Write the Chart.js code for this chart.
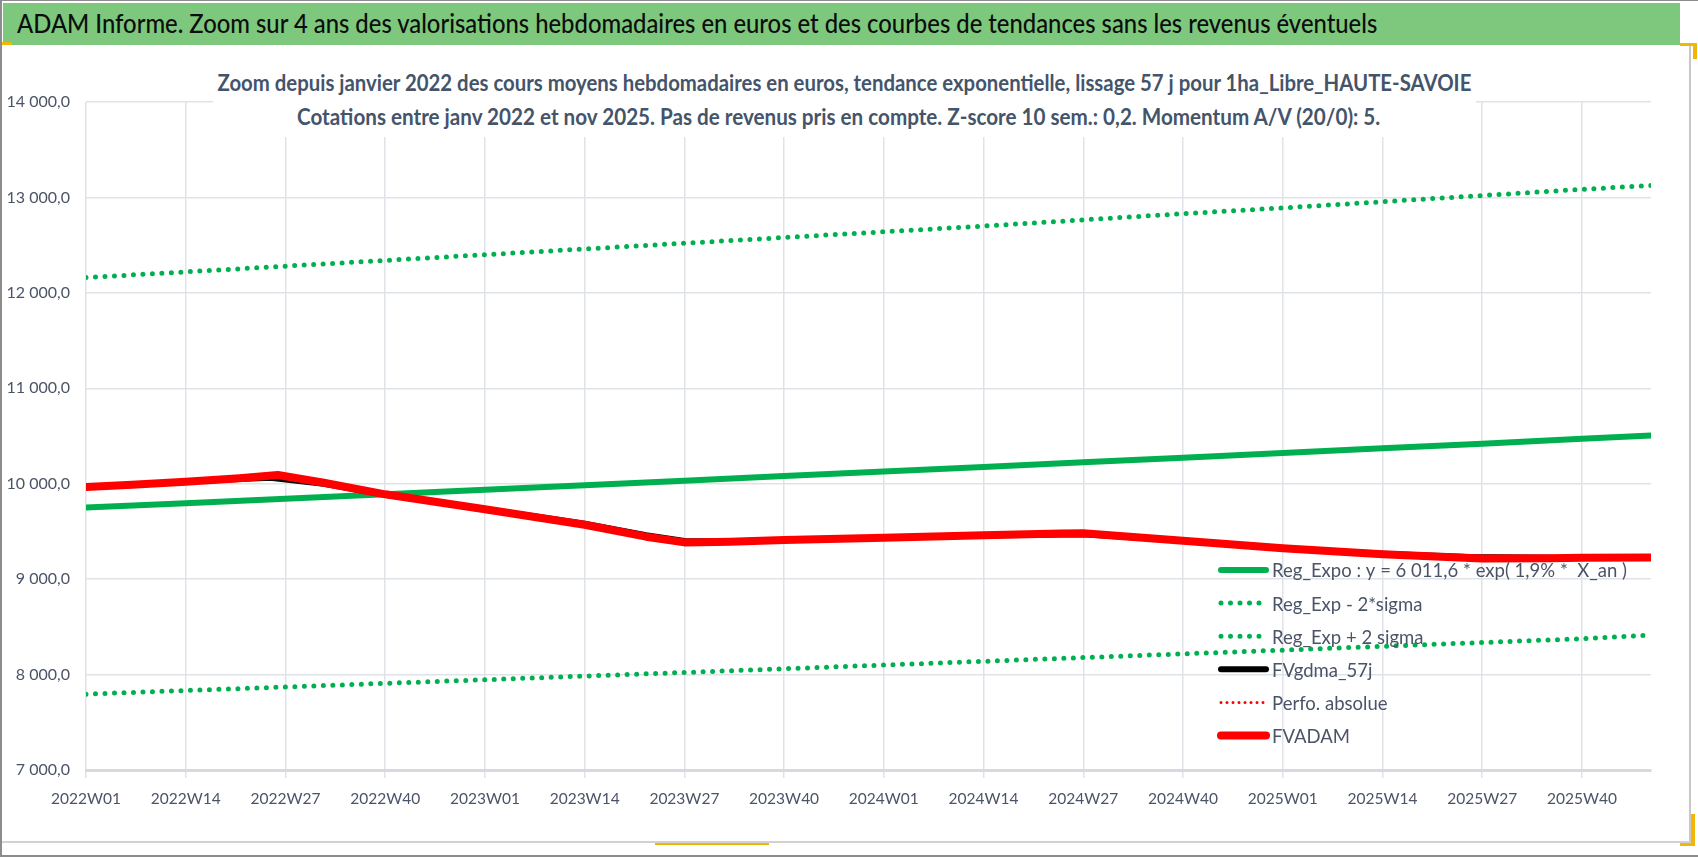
<!DOCTYPE html>
<html>
<head>
<meta charset="utf-8">
<title>ADAM Informe - 1ha_Libre_HAUTE-SAVOIE</title>
<script src="https://cdn.jsdelivr.net/npm/chart.js@4.4.0/dist/chart.umd.min.js"></script>
<style>
  html, body { margin: 0; padding: 0; background: #fff; }
  #page { position: relative; width: 1698px; height: 857px; overflow: hidden; font-family: Lato, "Open Sans", sans-serif; }
  #frame { position: absolute; left: 0; top: 0; width: 1696px; height: 854px; border-left: 2px solid #8c8c8c; border-top: 1px solid #8c8c8c; border-bottom: 2px solid #8c8c8c; }
  #box { position: absolute; left: 2px; top: 45px; width: 1687px; height: 796px; border-right: 2px solid #c8c8c8; border-bottom: 2px solid #d2d2d2; }
  #banner { position: absolute; left: 3px; top: 3px; width: 1677px; height: 42px; background: #7dc87d; }
  #bannerText { position: absolute; left: 14px; top: 4px; font-size: 27px; line-height: 32px; font-weight: 500; color: #0d0d0d; white-space: nowrap; transform-origin: 0 0; }
  canvas { position: absolute; left: 0; top: 0; }
  #titleBox { position: absolute; left: 213px; top: 48px; width: 1263px; height: 89px; background: #fff; }
  .tl { position: absolute; left: -500px; width: 2263px; text-align: center; font-weight: bold; font-size: 23px; line-height: 34px; color: #44546a; white-space: nowrap; }
  .tl span { display: inline-block; transform-origin: 50% 50%; }
  .hdl { position: absolute; background: #f2b705; }
</style>
</head>
<body>
<div id="page">
  <canvas id="myChart" width="1698" height="857"></canvas>
  <div id="frame"></div>
  <div id="box"></div>
  <div id="banner"><span id="bannerText">ADAM Informe. Zoom sur 4 ans des valorisations hebdomadaires en euros et des courbes de tendances sans les revenus éventuels</span></div>
  <div id="titleBox">
    <div class="tl" style="top:17px"><span id="t1">Zoom depuis janvier 2022 des cours moyens hebdomadaires en euros, tendance exponentielle, lissage 57 j pour 1ha_Libre_HAUTE-SAVOIE</span></div>
    <div class="tl" style="top:51px; left:-506px"><span id="t2">Cotations entre janv 2022 et nov 2025. Pas de revenus pris en compte. Z-score 10 sem.: 0,2. Momentum A/V (20/0): 5.</span></div>
  </div>
  <div class="hdl" style="left:1680px; top:43px; width:16px; height:3px"></div>
  <div class="hdl" style="left:1693px; top:43px; width:4px; height:16px"></div>
  <div class="hdl" style="left:1691px; top:814px; width:4px; height:32px"></div>
  <div class="hdl" style="left:1680px; top:843px; width:15px; height:3px"></div>
  <div class="hdl" style="left:655px; top:843px; width:114px; height:2px"></div>
  <div class="hdl" style="left:2px; top:42px; width:10px; height:3px"></div>
</div>

<script>
// x axis tick labels (one every 13 weeks, week index 0 = 2022W01)
var tickLabels = ["2022W01", "2022W14", "2022W27", "2022W40", "2023W01", "2023W14", "2023W27", "2023W40",
  "2024W01", "2024W14", "2024W27", "2024W40", "2025W01", "2025W14", "2025W27", "2025W40"];
var lastWeek = 204;

// trend curves, read at each tick + last week
var trendWeeks = [0, 13, 26, 39, 52, 65, 78, 91, 104, 117, 130, 143, 156, 169, 182, 195, 204];
var regExpo = [9750, 9796, 9843, 9890, 9937, 9984, 10032, 10080, 10128, 10176, 10224, 10273, 10322, 10371, 10420, 10470, 10505];
var regMinus2Sigma = [7795, 7833, 7870, 7908, 7946, 7984, 8022, 8061, 8100, 8139, 8178, 8217, 8256, 8296, 8336, 8376, 8415];
var regPlus2Sigma = [12160, 12220, 12280, 12340, 12400, 12460, 12520, 12580, 12640, 12700, 12765, 12830, 12890, 12955, 13020, 13085, 13125];

// smoothed 57 days
var gdmaWeeks = [0, 13, 20, 24, 31, 39, 52, 65, 73, 78, 84, 91, 104, 117, 130, 143, 156, 169, 180, 195, 204];
var fvGdma57 = [9965, 10020, 10050, 10062, 10000, 9885, 9735, 9580, 9460, 9400, 9398, 9411, 9435, 9458, 9470, 9405, 9325, 9265, 9232, 9222, 9222];

// FVADAM
var adamWeeks = [0, 6, 13, 20, 25, 31, 39, 52, 65, 73, 78, 84, 91, 104, 117, 127, 130, 143, 156, 169, 182, 191, 195, 204];
var fvAdam = [9965, 9990, 10021, 10057, 10091, 10010, 9889, 9732, 9570, 9445, 9385, 9393, 9411, 9435, 9459, 9478, 9480, 9403, 9323, 9262, 9217, 9218, 9225, 9228];

// Perfo. absolue : nothing visible on the chart
var perfoWeeks = [];
var perfoAbsolue = [];

function pts(xs, ys) {
  return xs.map(function (x, i) { return { x: x, y: ys[i] }; });
}

function fmtEuro(v) {
  return String(v).replace(/\B(?=(\d{3})+(?!\d))/g, " ") + ",0";
}

var FONT = "Lato, 'Open Sans', sans-serif";
var TXT = "#4b5467";
var GRID = "#dfe3e8";

// legend drawn inside the plot, Excel style
var insideLegend = {
  id: "insideLegend",
  afterDatasetsDraw: function (chart) {
    var ctx = chart.ctx;
    var x0 = 1221, x1 = 1266, xt = 1272, top = 570, row = 33.1;
    ctx.save();
    ctx.font = "20px " + FONT;
    var sx = 355 / ctx.measureText(chart.data.datasets[0].label).width;
    chart.data.datasets.forEach(function (ds, i) {
      var y = top + i * row;
      ctx.beginPath();
      ctx.setLineDash(ds.borderDash || []);
      ctx.lineCap = "round";
      ctx.lineWidth = ds.borderWidth;
      ctx.strokeStyle = ds.borderColor;
      ctx.moveTo(x0, y);
      ctx.lineTo(x1, y);
      ctx.stroke();
      ctx.setLineDash([]);
      ctx.fillStyle = TXT;
      ctx.textBaseline = "middle";
      ctx.save();
      ctx.translate(xt, y + 1);
      ctx.scale(sx, 1);
      ctx.fillText(ds.label, 0, 0);
      ctx.restore();
    });
    ctx.restore();
  }
};

var dotted = { borderDash: [0, 9.5], borderWidth: 5, borderCapStyle: "round" };

new Chart(document.getElementById("myChart"), {
  type: "line",
  data: {
    datasets: [
      { label: "Reg_Expo : y = 6 011,6 * exp( 1,9% *  X_an )", data: pts(trendWeeks, regExpo),
        borderColor: "#00b050", borderWidth: 6, borderCapStyle: "round", order: 5 },
      Object.assign({ label: "Reg_Exp - 2*sigma", data: pts(trendWeeks, regMinus2Sigma), borderColor: "#00b050", order: 4 }, dotted),
      Object.assign({ label: "Reg_Exp + 2 sigma", data: pts(trendWeeks, regPlus2Sigma), borderColor: "#00b050", order: 3 }, dotted),
      { label: "FVgdma_57j", data: pts(gdmaWeeks, fvGdma57),
        borderColor: "#000000", borderWidth: 6, borderCapStyle: "round", order: 2 },
      { label: "Perfo. absolue", data: pts(perfoWeeks, perfoAbsolue),
        borderColor: "#ff0000", borderWidth: 3, borderDash: [0, 6], borderCapStyle: "round", order: 1 },
      { label: "FVADAM", data: pts(adamWeeks, fvAdam),
        borderColor: "#ff0000", borderWidth: 8, borderCapStyle: "round", order: 0 }
    ]
  },
  options: {
    responsive: false,
    animation: false,
    devicePixelRatio: 1,
    layout: { padding: { left: 6, top: 102, right: 47, bottom: 47 } },
    elements: { point: { radius: 0 }, line: { tension: 0, borderJoinStyle: "round" } },
    plugins: { legend: { display: false }, title: { display: false }, tooltip: { enabled: false } },
    scales: {
      x: {
        type: "linear",
        min: 0,
        max: lastWeek,
        afterBuildTicks: function (scale) {
          scale.ticks = tickLabels.map(function (t, i) { return { value: i * 13 }; });
        },
        afterFit: function (scale) { scale.height = 40; },
        ticks: {
          autoSkip: false,
          maxRotation: 0,
          padding: 12,
          color: TXT,
          font: { family: FONT, size: 15.5 },
          callback: function (v) { return tickLabels[Math.round(v / 13)]; }
        },
        grid: { color: GRID, lineWidth: 1.5, drawTicks: true, tickLength: 8, tickColor: GRID },
        border: { display: true, color: "#d6d9de", width: 3 }
      },
      y: {
        min: 7000,
        max: 14000,
        afterFit: function (scale) { scale.width = 80; },
        ticks: {
          stepSize: 1000,
          padding: 16,
          color: TXT,
          font: { family: FONT, size: 16 },
          callback: function (v) { return fmtEuro(v); }
        },
        grid: { color: GRID, lineWidth: 1.5, drawTicks: false },
        border: { display: false }
      }
    }
  },
  plugins: [insideLegend]
});

// fit the HTML titles to the widths they have in the original
function fit(id, target, origin) {
  var el = document.getElementById(id);
  el.style.transformOrigin = origin;
  el.style.transform = "scaleX(" + (target / el.offsetWidth) + ")";
}
fit("bannerText", 1360, "0 0");
fit("t1", 1254, "50% 50%");
fit("t2", 1083, "50% 50%");
</script>
</body>
</html>
